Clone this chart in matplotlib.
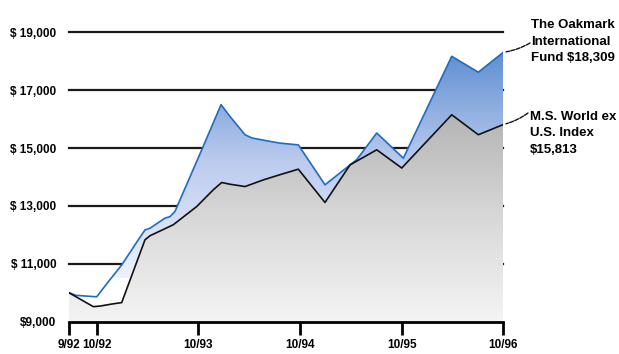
import numpy as np
import matplotlib
matplotlib.use('agg')
import matplotlib.pyplot as plt
from matplotlib.colors import LinearSegmentedColormap
from matplotlib.patches import Polygon

plt.rcParams['font.family'] = ['Liberation Sans', 'DejaVu Sans']

# growth of $10,000, months measured from 10/92 (chart starts a little before)
fund_months = [-3.27, -2.44, 0, 1.37, 2.95, 4.91, 5.70, 6.29, 8.07, 8.65, 9.24,
               12.40, 14.68, 15.74, 17.51, 18.30, 20.46, 21.64, 23.80, 26.95,
               28.93, 30.70, 33.06, 36.20, 41.91, 45.05, 48]
fund_values = [10000, 9910, 9860, 10380, 10960, 11830, 12170, 12230, 12580, 12630,
               12810, 14940, 16500, 16090, 15460, 15350, 15230, 15170, 15110, 13730,
               14190, 14600, 15520, 14650, 18170, 17620, 18309]

index_months = [-3.27, -0.40, 0.39, 1.77, 2.95, 5.70, 6.29, 9.04, 11.81, 13.77,
                14.76, 15.74, 17.51, 19.67, 21.64, 23.80, 26.95, 29.91, 33.06,
                36.01, 41.91, 45.05, 48]
index_values = [10000, 9520, 9540, 9610, 9660, 11830, 11970, 12350, 12980, 13560,
                13810, 13750, 13670, 13900, 14080, 14270, 13120, 14420, 14940,
                14310, 16150, 15460, 15813]

tick_pos = [-3.27, 0, 12, 24, 36, 48]
tick_labels = ['9/92', '10/92', '10/93', '10/94', '10/95', '10/96']
grid_values = [11000, 13000, 15000, 17000, 19000]
y_labels = [r'\$9,000', r'\$ 11,000', r'\$ 13,000', r'\$ 15,000', r'\$ 17,000', r'\$ 19,000']

fund_label = 'The Oakmark\nInternational\nFund \\$18,309'
index_label = 'M.S. World ex\nU.S. Index\n\\$15,813'

W, H = 619, 354
fig = plt.figure(figsize=(W / 100, H / 100), dpi=100)
ax = fig.add_axes([69 / W, 1 - 321.7 / H, (503.3 - 69) / W, (321.7 - 26.5) / H])
xmin, xmax, ymin, ymax = -3.27, 48, 9000, 19200

for g in grid_values:
    ax.axhline(g, color='#1a1a1a', lw=1.6, zorder=1, clip_on=False)

# vertical gradients clipped to the two areas
grad = np.linspace(1, 0, 256).reshape(-1, 1)
gray_cm = LinearSegmentedColormap.from_list('g', ['#f4f4f4', '#d8d8d8', '#b4b4b4'])
blue_cm = LinearSegmentedColormap.from_list('b', ['#eef2fb', '#bccbee', '#5a8cd0'])

gray_poly = Polygon(list(zip(index_months, index_values)) + [(xmax, ymin), (xmin, ymin)],
                    closed=True, facecolor='none', edgecolor='none')
ax.add_patch(gray_poly)
im = ax.imshow(grad, cmap=gray_cm, aspect='auto', extent=[xmin, xmax, ymin, 16200],
               zorder=2, vmin=0, vmax=1)
im.set_clip_path(gray_poly)

blue_poly = Polygon(list(zip(fund_months, fund_values)) +
                    list(zip(index_months[::-1], index_values[::-1])),
                    closed=True, facecolor='none', edgecolor='none')
ax.add_patch(blue_poly)
im2 = ax.imshow(grad, cmap=blue_cm, aspect='auto', extent=[xmin, xmax, 10500, 18500],
                zorder=2, vmin=0, vmax=1)
im2.set_clip_path(blue_poly)
ax.set_xlim(xmin, xmax)
ax.set_ylim(ymin, ymax)

ax.plot(fund_months, fund_values, color='#1f6cc4', lw=1.2, zorder=3)
ax.plot(index_months, index_values, color='#111111', lw=1.2, zorder=3)

for s in ['top', 'right', 'left']:
    ax.spines[s].set_visible(False)
ax.spines['bottom'].set_linewidth(2)
ax.spines['bottom'].set_zorder(4)
ax.set_xticks(tick_pos)
ax.set_xticklabels(tick_labels, fontsize=8.5, fontweight='bold')
ax.tick_params(axis='x', length=9.5, width=2, pad=3)
ax.set_yticks([9000] + grid_values)
ax.set_yticklabels(y_labels, fontsize=8.5, fontweight='bold')
ax.tick_params(axis='y', length=0, pad=9)

fig.text(531 / W, 1 - 41.7 / H, fund_label, fontsize=9.5, fontweight='bold',
         va='center', ha='left', linespacing=1.5)
fig.text(530 / W, 1 - 133.3 / H, index_label, fontsize=9.5, fontweight='bold',
         va='center', ha='left', linespacing=1.5)

ax.annotate('', xy=(48, fund_values[-1]), xytext=(530, H - 43), textcoords='figure pixels',
            arrowprops=dict(arrowstyle='-', color='#111111', lw=1, ls=(0, (3, 1)),
                            connectionstyle='arc3,rad=-0.1', shrinkA=0, shrinkB=2))
ax.annotate('', xy=(48, index_values[-1]), xytext=(528, H - 113), textcoords='figure pixels',
            arrowprops=dict(arrowstyle='-', color='#111111', lw=1, ls=(0, (3, 1)),
                            connectionstyle='arc3,rad=-0.1', shrinkA=0, shrinkB=2))

fig.savefig('out.png', dpi=100)
